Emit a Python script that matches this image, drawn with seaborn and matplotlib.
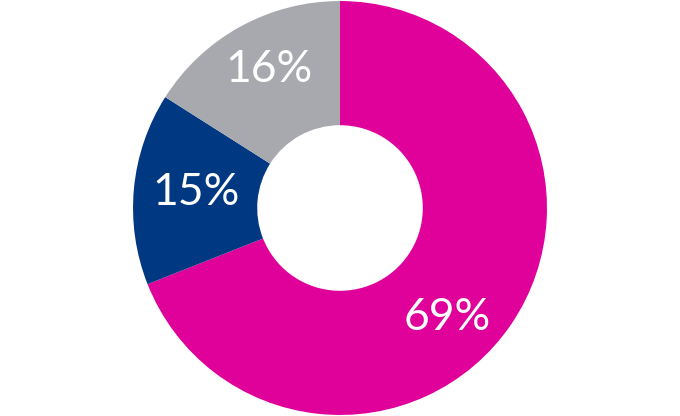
import numpy as np
import seaborn as sns
import matplotlib.pyplot as plt

# shares, clockwise from 12 o'clock
shares = [69, 15, 16]
labels = ["69%", "15%", "16%"]
colors = ["#E0009A", "#003882", "#A7A9AE"]

# label placement (polar: degrees, fraction of radius)
label_angles = [-45.5, 174, 117]
label_radii = [0.74, 0.70, 0.75]

sns.set_theme(style="white")
plt.rcParams['font.family'] = ['Lato', 'DejaVu Sans']

fig = plt.figure(figsize=(6.8, 4.16), dpi=100)
ax = fig.add_axes([0, 0, 1, 1])

wedges, _ = ax.pie(shares, colors=colors, startangle=90, counterclock=False,
                   radius=1, wedgeprops=dict(width=0.6, linewidth=0))

for lab, ang, r in zip(labels, label_angles, label_radii):
    a = np.deg2rad(ang)
    ax.text(r * np.cos(a), r * np.sin(a), lab, color="white", fontsize=32,
            ha="center", va="center")

ax.set_aspect("equal")
ax.set_ylim(-1.005, 1.005)
ax.set_xlim(-1.005 * 680 / 416, 1.005 * 680 / 416)
ax.axis("off")

fig.savefig("out.png", dpi=100)
